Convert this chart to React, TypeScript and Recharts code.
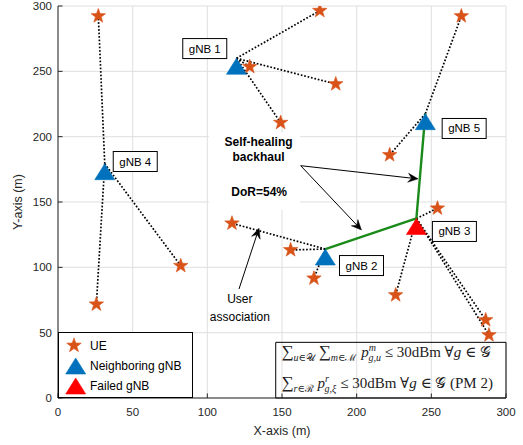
import React from 'react';
import {
  ScatterChart,
  Scatter,
  XAxis,
  YAxis,
  CartesianGrid,
  ReferenceLine,
  ReferenceArea,
  ReferenceDot,
  Legend,
} from 'recharts';

// ---------------- data ----------------
const axisTicks = [0, 50, 100, 150, 200, 250, 300];

const gnbNames = ['gNB 1', 'gNB 2', 'gNB 3', 'gNB 4', 'gNB 5'];
const gnbX = [119.5, 179, 240, 31.3, 246];
const gnbY = [260, 114, 137.4, 179.3, 217.6];
const gnbFailed = [false, false, true, false, false];

const ueX = [27, 128.4, 175.3, 186, 149.1, 270.1, 222.1, 254.1, 116.5, 155.8, 171.4, 226.1, 286.4, 288.6, 25.7, 82.2];
const ueY = [292.3, 253.5, 296.4, 240.3, 210.7, 292.3, 186, 145.2, 133.7, 113.3, 91.6, 78.8, 59.7, 48.2, 71.7, 101.2];
// index of the serving gNB for every UE
const ueServing = [3, 0, 0, 0, 0, 4, 4, 2, 1, 1, 1, 2, 2, 2, 3, 3];

// self-healing backhaul route: gNB 2 -> gNB 3 -> gNB 5
const backhaulRoute = [1, 2, 4];

// annotation texts (data coordinates of their centres)
const noteText = ['Self-healing', 'backhaul', 'DoR=54%', 'User', 'association'];
const noteX = [134.3, 134.3, 134.7, 121.8, 121.8];
const noteY = [196.1, 184.2, 157.6, 75.5, 62];
const noteBold = [true, true, true, false, false];

// annotation arrows [from x, from y, to x, to y]
const arrowFromX = [162.5, 162.5, 121.2];
const arrowFromY = [177.8, 177.8, 83.4];
const arrowToX = [241.1, 203.2, 134.6];
const arrowToY = [167.7, 128.6, 129.9];

// ---------------- styles ----------------
const SANS = "'Liberation Sans', Arial, Helvetica, sans-serif";
const SERIF = "'Liberation Serif', 'DejaVu Serif', 'Times New Roman', serif";
const AXIS = '#262626';
const UE_COLOR = '#D95319';
const BLUE = '#0072BD';
const RED = '#FF0000';
const GREEN = '#1a8a1a';
const labelDx = [-31.7, 36.2, 38, 30.5, 38.8];
const labelDy = [-9.7, 16.5, 13, -2.2, 14.8];

const starPoints = (cx: number, cy: number, R: number) => {
  const pts: string[] = [];
  for (let i = 0; i < 10; i++) {
    const r = i % 2 === 0 ? R : R * 0.4;
    const a = (-90 + i * 36) * (Math.PI / 180);
    pts.push(`${cx + r * Math.cos(a)},${cy + r * Math.sin(a)}`);
  }
  return pts.join(' ');
};

const triPoints = (cx: number, apexY: number) =>
  `${cx},${apexY} ${cx + 10},${apexY + 16} ${cx - 10},${apexY + 16}`;

const Empty = () => <g />;

const StarShape = (p: any) => (
  <polygon points={starPoints(p.cx, p.cy, 7.6)} fill={UE_COLOR} stroke={UE_COLOR} strokeWidth={0.6} />
);

const GnbShape = (p: any) => {
  const d = p.payload || p;
  const color = d.failed ? RED : BLUE;
  const bx = p.cx + d.ldx;
  const by = p.cy + d.ldy;
  return (
    <g>
      <polygon points={triPoints(p.cx, p.cy)} fill={color} stroke={color} strokeWidth={0.6} />
      <rect x={bx - 22} y={by - 10} width={44} height={20} fill="#fff" stroke="#000" strokeWidth={1} />
      <text x={bx} y={by + 4} textAnchor="middle" fontSize={11.5} fontFamily={SANS} fill="#000">
        {d.name}
      </text>
    </g>
  );
};

const XTickBottom = (p: any) => (
  <g>
    <line x1={p.x} y1={p.y} x2={p.x} y2={p.y - 4.5} stroke={AXIS} strokeWidth={1} />
    <text x={p.x} y={p.y + 18} textAnchor="middle" fontSize={11.5} fontFamily={SANS} fill={AXIS}>
      {p.payload.value}
    </text>
  </g>
);
const YTickLeft = (p: any) => (
  <g>
    <line x1={p.x} y1={p.y} x2={p.x + 4.5} y2={p.y} stroke={AXIS} strokeWidth={1} />
    <text x={p.x - 6} y={p.y + 4} textAnchor="end" fontSize={11.5} fontFamily={SANS} fill={AXIS}>
      {p.payload.value}
    </text>
  </g>
);
const XTickTop = (p: any) => (
  <line x1={p.x} y1={p.y} x2={p.x} y2={p.y + 4.5} stroke={AXIS} strokeWidth={1} />
);
const YTickRight = (p: any) => (
  <line x1={p.x} y1={p.y} x2={p.x - 4.5} y2={p.y} stroke={AXIS} strokeWidth={1} />
);

const ArrowShape = (p: any) => {
  const { x1, y1, x2, y2 } = p;
  const ang = Math.atan2(y2 - y1, x2 - x1);
  const L = 10;
  const W = 4.5;
  const bx = x2 - L * Math.cos(ang);
  const by = y2 - L * Math.sin(ang);
  const nx = x2 - L * 0.65 * Math.cos(ang);
  const ny = y2 - L * 0.65 * Math.sin(ang);
  const px = -Math.sin(ang);
  const py = Math.cos(ang);
  return (
    <g>
      <line x1={x1} y1={y1} x2={nx} y2={ny} stroke="#000" strokeWidth={1} />
      <polygon
        points={`${x2},${y2} ${bx + px * W},${by + py * W} ${nx},${ny} ${bx - px * W},${by - py * W}`}
        fill="#000"
        stroke="#000"
        strokeWidth={0.5}
      />
    </g>
  );
};

const makeNote = (i: number) => (p: any) => (
  <text
    x={p.cx}
    y={p.cy}
    dominantBaseline="central"
    textAnchor="middle"
    fontSize={12}
    fontWeight={noteBold[i] ? 'bold' : 'normal'}
    fontFamily={SANS}
    fill="#000"
  >
    {noteText[i]}
  </text>
);

const Formula1 = (p: any) => (
  <text x={p.cx} y={p.cy} fontSize={15} fontFamily={SERIF} fill="#222" style={{ whiteSpace: 'pre' }}>
    <tspan fontSize={17}>∑</tspan>
    <tspan fontSize={10} dy={4} fontStyle="italic">u</tspan>
    <tspan fontSize={10}>∈𝒰</tspan>
    <tspan dy={-4}> </tspan>
    <tspan fontSize={17}>∑</tspan>
    <tspan fontSize={10} dy={4} fontStyle="italic">m</tspan>
    <tspan fontSize={10}>∈ℳ</tspan>
    <tspan dy={-4}> </tspan>
    <tspan fontStyle="italic">p</tspan>
    <tspan fontSize={10} dy={-6} fontStyle="italic">m</tspan>
    <tspan fontSize={10} dx={-7.5} dy={10} fontStyle="italic">g,u</tspan>
    <tspan dy={-4}> ≤ 30dBm ∀</tspan>
    <tspan fontStyle="italic">g</tspan>
    <tspan> ∈ 𝒢</tspan>
  </text>
);

const Formula2 = (p: any) => (
  <text x={p.cx} y={p.cy} fontSize={15} fontFamily={SERIF} fill="#222" style={{ whiteSpace: 'pre' }}>
    <tspan fontSize={17}>∑</tspan>
    <tspan fontSize={10} dy={4} fontStyle="italic">r</tspan>
    <tspan fontSize={10}>∈ℛ</tspan>
    <tspan dy={-4}> </tspan>
    <tspan fontStyle="italic">p</tspan>
    <tspan fontSize={10} dy={-6} fontStyle="italic">r</tspan>
    <tspan fontSize={10} dx={-4} dy={10} fontStyle="italic">g,ξ</tspan>
    <tspan dy={-4}> ≤ 30dBm ∀</tspan>
    <tspan fontStyle="italic">g</tspan>
    <tspan> ∈ 𝒢 (PM 2)</tspan>
  </text>
);

const LegendBox = () => (
  <div
    style={{
      width: 135,
      height: 66,
      border: '1px solid #000',
      background: '#fff',
      boxSizing: 'border-box',
      position: 'relative',
    }}
  >
    <svg width={135} height={66} style={{ position: 'absolute', left: -1, top: -1 }}>
      <polygon points={starPoints(16, 13.5, 7.6)} fill={UE_COLOR} stroke={UE_COLOR} strokeWidth={0.6} />
      <text x={32} y={17.8} fontSize={12} fontFamily={SANS} fill="#000">UE</text>
      <polygon points={triPoints(17.7, 26)} fill={BLUE} stroke={BLUE} strokeWidth={0.6} />
      <text x={32} y={38.2} fontSize={12} fontFamily={SANS} fill="#000">Neighboring gNB</text>
      <polygon points={triPoints(17.7, 46)} fill={RED} stroke={RED} strokeWidth={0.6} />
      <text x={32} y={58.4} fontSize={12} fontFamily={SANS} fill="#000">Failed gNB</text>
    </svg>
  </div>
);

export default function App() {
  const ueData = ueX.map((x, i) => ({ x, y: ueY[i] }));
  const gnbData = gnbX.map((x, i) => ({
    x,
    y: gnbY[i],
    name: gnbNames[i],
    failed: gnbFailed[i],
    ldx: labelDx[i],
    ldy: labelDy[i],
  }));
  const links = ueX.map((x, i) => [
    { x: gnbX[ueServing[i]], y: gnbY[ueServing[i]] },
    { x, y: ueY[i] },
  ]);
  const backhaul = backhaulRoute.map((g) => ({ x: gnbX[g], y: gnbY[g] }));

  return (
    <div style={{ position: 'absolute', left: 0, top: 0, width: 523, height: 445, background: '#fff' }}>
      <ScatterChart width={523} height={445} margin={{ top: 6, right: 17, bottom: 0, left: 0 }}>
        <CartesianGrid stroke="#dfdfdf" strokeWidth={1} />
        <ReferenceArea x1={101} x2={162} y1={144} y2={203} fill="#fff" fillOpacity={1} stroke="none" />
        <XAxis
          type="number"
          dataKey="x"
          domain={[0, 300]}
          ticks={axisTicks}
          allowDataOverflow
          height={47}
          tickSize={0}
          tickMargin={0}
          tickLine={false}
          axisLine={{ stroke: AXIS }}
          tick={<XTickBottom />}
          interval={0}
          label={{ value: 'X-axis (m)', position: 'insideBottom', offset: 10, fill: AXIS, fontSize: 12.5, fontFamily: SANS }}
        />
        <YAxis
          type="number"
          dataKey="y"
          domain={[0, 300]}
          ticks={axisTicks}
          allowDataOverflow
          width={58}
          tickSize={0}
          tickMargin={0}
          tickLine={false}
          axisLine={{ stroke: AXIS }}
          tick={<YTickLeft />}
          interval={0}
          label={(props: any) => {
            const vb = props.viewBox || { x: 0, y: 6, width: 58, height: 392 };
            const cx = vb.x + 18;
            const cy = vb.y + vb.height / 2;
            return (
              <text
                x={cx}
                y={cy}
                transform={`rotate(-90 ${cx} ${cy})`}
                textAnchor="middle"
                dominantBaseline="central"
                fontSize={12.5}
                fontFamily={SANS}
                fill={AXIS}
              >
                Y-axis (m)
              </text>
            );
          }}
        />
        <XAxis
          xAxisId="top"
          orientation="top"
          type="number"
          domain={[0, 300]}
          ticks={axisTicks}
          allowDataOverflow
          height={0}
          tickSize={0}
          tickMargin={0}
          tickLine={false}
          axisLine={{ stroke: AXIS }}
          tick={<XTickTop />}
          interval={0}
        />
        <YAxis
          yAxisId="right"
          orientation="right"
          type="number"
          domain={[0, 300]}
          ticks={axisTicks}
          allowDataOverflow
          width={0}
          tickSize={0}
          tickMargin={0}
          tickLine={false}
          axisLine={{ stroke: AXIS }}
          tick={<YTickRight />}
          interval={0}
        />

        {links.map((d, i) => (
          <Scatter
            key={`link-${i}`}
            data={d}
            line={{ stroke: '#000', strokeWidth: 1.7, strokeDasharray: '1.7 1.8' }}
            shape={<Empty />}
            isAnimationActive={false}
            legendType="none"
          />
        ))}
        <Scatter
          data={backhaul}
          line={{ stroke: GREEN, strokeWidth: 2.4 }}
          shape={<Empty />}
          isAnimationActive={false}
          legendType="none"
        />
        <Scatter data={ueData} shape={StarShape} isAnimationActive={false} name="UE" />
        <Scatter data={gnbData} shape={GnbShape} isAnimationActive={false} name="gNB" />

        {arrowFromX.map((x, i) => (
          <ReferenceLine
            key={`arrow-${i}`}
            segment={[
              { x, y: arrowFromY[i] },
              { x: arrowToX[i], y: arrowToY[i] },
            ]}
            shape={ArrowShape}
            ifOverflow="visible"
          />
        ))}
        {noteText.map((t, i) => (
          <ReferenceDot key={`note-${i}`} x={noteX[i]} y={noteY[i]} r={0} shape={makeNote(i)} ifOverflow="visible" />
        ))}

        <ReferenceArea x1={145.8} x2={300} y1={0} y2={42.6} fill="none" fillOpacity={0} stroke="#000" strokeWidth={1} />
        <ReferenceDot x={149.6} y={31.6} r={0} shape={Formula1} ifOverflow="visible" />
        <ReferenceDot x={149.6} y={7.4} r={0} shape={Formula2} ifOverflow="visible" />

        <Legend
          layout="horizontal"
          verticalAlign="middle"
          align="center"
          content={<LegendBox />}
          wrapperStyle={{ left: 58, top: 332, width: 135, height: 66 }}
        />
      </ScatterChart>
    </div>
  );
}
